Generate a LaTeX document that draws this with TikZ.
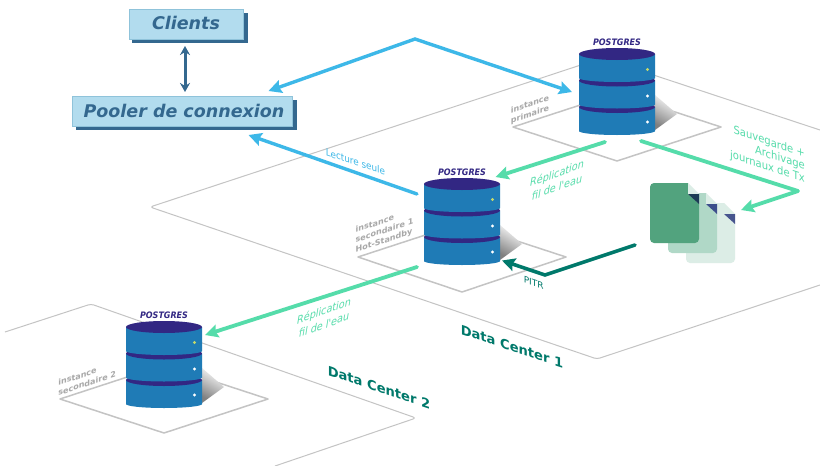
\documentclass[tikz,border=0pt]{standalone}
\usepackage{fontspec}
\setmainfont{DejaVu Sans}
\newfontfamily\narrowsans[FakeStretch=0.9]{DejaVu Sans}
\usetikzlibrary{arrows.meta}
\definecolor{plateline}{HTML}{C4C4C4}
\definecolor{diskblue}{HTML}{1F7BB6}
\definecolor{diskdark}{HTML}{322783}
\definecolor{boxfill}{HTML}{B2DCEE}
\definecolor{boxedge}{HTML}{8FC3DA}
\definecolor{boxshadow}{HTML}{34688F}
\definecolor{sky}{HTML}{3DB8E8}
\definecolor{mint}{HTML}{55DCAA}
\definecolor{teal2}{HTML}{00796B}
\definecolor{graytext}{HTML}{A8A8A8}
\definecolor{pagelight}{HTML}{DCEDE6}
\definecolor{pagemid}{HTML}{B0D8C7}
\definecolor{pagemain}{HTML}{52A37E}
\definecolor{foldA}{HTML}{47558E}
\definecolor{foldB}{HTML}{3D4F8C}
\definecolor{foldC}{HTML}{1C3B55}
\definecolor{leddot}{HTML}{C5D96A}
\tikzset{
  plate/.style={draw=plateline,line width=1pt,line join=round},
  diamondplate/.style={draw=plateline,line width=1.5pt,line join=round},
  skyarrow/.style={draw=sky,line width=3.4pt,line join=miter,line cap=round,-{Stealth[length=13pt,width=13pt,inset=2pt]}},
  mintarrow/.style={draw=mint,line width=3.8pt,line cap=round,line join=round,-{Stealth[length=13pt,width=13pt,inset=2pt]}},
  tealarrow/.style={draw=teal2,line width=3.6pt,line cap=round,-{Stealth[length=13pt,width=13pt,inset=2pt]}},
  boxlabel/.style={font=\bfseries\itshape\fontsize{17.5}{20}\selectfont,text=boxshadow,inner sep=0pt},
  pglabel/.style={font=\narrowsans\bfseries\itshape\fontsize{8.9}{9}\selectfont,text=diskdark,inner sep=0pt},
  instlabel/.style={font=\bfseries\fontsize{8}{10}\selectfont,text=graytext,align=left},
  dclabel/.style={font=\bfseries\fontsize{13.1}{14}\selectfont,text=teal2},
  minttext/.style={font=\narrowsans\itshape\fontsize{10.7}{14}\selectfont,text=mint,align=center},
  savetext/.style={font=\narrowsans\fontsize{11.1}{12.7}\selectfont,text=mint,align=right},
  readtext/.style={font=\narrowsans\fontsize{9.8}{10}\selectfont,text=sky},
  pitrtext/.style={font=\fontsize{9}{10}\selectfont,text=teal2},
}
% a text sheared onto the isometric floor: x, y, slant, style, name, text
\newcommand{\skewtext}[6]{%
  \begin{scope}[shift={(#1,#2)},yslant=#3]
    \node[#4,inner sep=0pt,transform shape] (#5) at (0,0) {#6};
  \end{scope}%
}
\newcommand{\disk}[2]{%
  \fill[diskblue] (-38,#1) -- (-38,#1+#2) arc[start angle=180,end angle=0,x radius=38,y radius=4] -- (38,#1) -- cycle;
  \fill[diskdark] (0,#1) ellipse[x radius=38,y radius=6];
}
\newcommand{\dbcyl}[3]{%
  \begin{scope}[shift={(#1,#2)}]
    \shade[top color=white,middle color=black!12,bottom color=black!50,shading angle=-30] (38,41) -- (60,60) -- (38,76) -- cycle;
    \disk{53}{24}
    \disk{26.5}{24}
    \disk{0}{24}
    \fill[white] (30.5,68) circle[radius=1.7];
    \fill[white] (30.5,42) circle[radius=1.7];
    \fill[leddot] (30.5,15.5) circle[radius=1.7];
    \node[pglabel] (#3) at (0,-12) {POSTGRES};
  \end{scope}%
}
\newcommand{\docpage}[5]{%
  \begin{scope}[shift={(#1,#2)}]
    \fill[#3] (4,0) -- (38,0) -- (38,11) -- (49,21) -- (49,56) arc[start angle=0,end angle=90,radius=4] -- (4,60)
       arc[start angle=90,end angle=180,radius=4] -- (0,4) arc[start angle=180,end angle=270,radius=4] -- cycle;
    \fill[#4] (38,0) -- (49,11) -- (38,11) -- cycle;
    \fill[#5] (38,11) -- (49,11) -- (49,21) -- cycle;
  \end{scope}%
}
\begin{document}
\begin{tikzpicture}[x=1pt,y=-1pt]
\useasboundingbox (0,0) rectangle (820,466);
\fill[white] (0,0) rectangle (820,466);
% data-centre plates
\draw[plate,rounded corners=3pt] (820,130) -- (602,58) -- (150,207) -- (597,359) -- (820,285);
\draw[plate,rounded corners=3pt] (5,332) -- (91,304) -- (416,418) -- (275,466);
% instance plates
\draw[diamondplate] (513,127) -- (617,93) -- (721,127) -- (617,161) -- cycle;
\draw[diamondplate] (358,257) -- (462,223) -- (566,257) -- (462,292) -- cycle;
\draw[diamondplate] (60,399) -- (164,365) -- (268,399) -- (164,433) -- cycle;
% databases
\dbcyl{617}{54}{pgA}
\dbcyl{462}{184}{pgB}
\dbcyl{164}{327}{pgC}
% documents
\docpage{686}{203}{pagelight}{pagelight}{foldA}
\docpage{668}{193}{pagemid}{pagelight}{foldB}
\docpage{650}{183}{pagemain}{pagelight}{foldC}
% boxes
\fill[boxshadow] (132,13) rectangle (247.5,43);
\node[draw=boxedge,fill=boxfill,line width=.8pt,minimum width=114.5pt,minimum height=30pt,inner sep=0pt,anchor=north west] (clients) at (128.5,9) {};
\node[boxlabel] (clientstext) at (186,23) {Clients};
\fill[boxshadow] (76,100) rectangle (296.5,130);
\node[draw=boxedge,fill=boxfill,line width=.8pt,minimum width=220pt,minimum height=30pt,inner sep=0pt,anchor=north west] (pooler) at (72,96) {};
\node[boxlabel] (poolertext) at (184,110.5) {Pooler de connexion};
% connector end points
\coordinate (bidirA) at (185,46);
\coordinate (bidirB) at (185,92);
\coordinate (skyA) at (572,92);
\coordinate (skyM) at (415,39);
\coordinate (skyB) at (268.5,91);
\coordinate (readA) at (417,194);
\coordinate (readB) at (248.5,135);
\coordinate (repA1) at (605,142);
\coordinate (repA2) at (495.5,177);
\coordinate (repB1) at (417,267);
\coordinate (repB2) at (205,335);
\coordinate (saveA) at (641,141);
\coordinate (saveM) at (798,191);
\coordinate (saveB) at (741,210);
\coordinate (pitrA) at (635,245);
\coordinate (pitrM) at (545,275);
\coordinate (pitrB) at (502,260.5);
% connectors
\draw[draw=boxshadow,line width=3pt,{Stealth[length=9pt,width=10pt]}-{Stealth[length=9pt,width=10pt]}] (bidirA) -- (bidirB);
\draw[skyarrow,{Stealth[length=13pt,width=13pt,inset=2pt]}-{Stealth[length=13pt,width=13pt,inset=2pt]}] (skyA) -- (skyM) -- (skyB);
\draw[skyarrow] (readA) -- (readB);
\draw[mintarrow] (repA1) -- (repA2);
\draw[mintarrow] (repB1) -- (repB2);
\draw[mintarrow] (saveA) -- (saveM) -- (saveB);
\draw[tealarrow] (pitrA) -- (pitrM) -- (pitrB);
% labels
\skewtext{355.5}{161.7}{-0.33}{readtext}{readlabel}{Lecture seule}
\skewtext{557}{180}{0.36}{minttext}{repAlabel}{Réplication\\fil de l'eau}
\skewtext{324}{317.5}{0.36}{minttext}{repBlabel}{Réplication\\fil de l'eau}
\skewtext{767.5}{154.6}{-0.33}{savetext}{savelabel}{Sauvegarde +\\Archivage\\journaux de Tx}
\skewtext{533.7}{282.7}{-0.33}{pitrtext}{pitrlabel}{PITR}
\skewtext{530}{109.7}{0.33}{instlabel}{instA}{instance\\primaire}
\skewtext{384.5}{231}{0.33}{instlabel}{instB}{instance\\secondaire 1\\Hot-Standby}
\skewtext{87.2}{378.2}{0.33}{instlabel}{instC}{instance\\secondaire 2}
\skewtext{512}{346.5}{-0.33}{dclabel}{dcA}{Data Center 1}
\skewtext{379}{387.5}{-0.33}{dclabel}{dcB}{Data Center 2}
\end{tikzpicture}
\end{document}
